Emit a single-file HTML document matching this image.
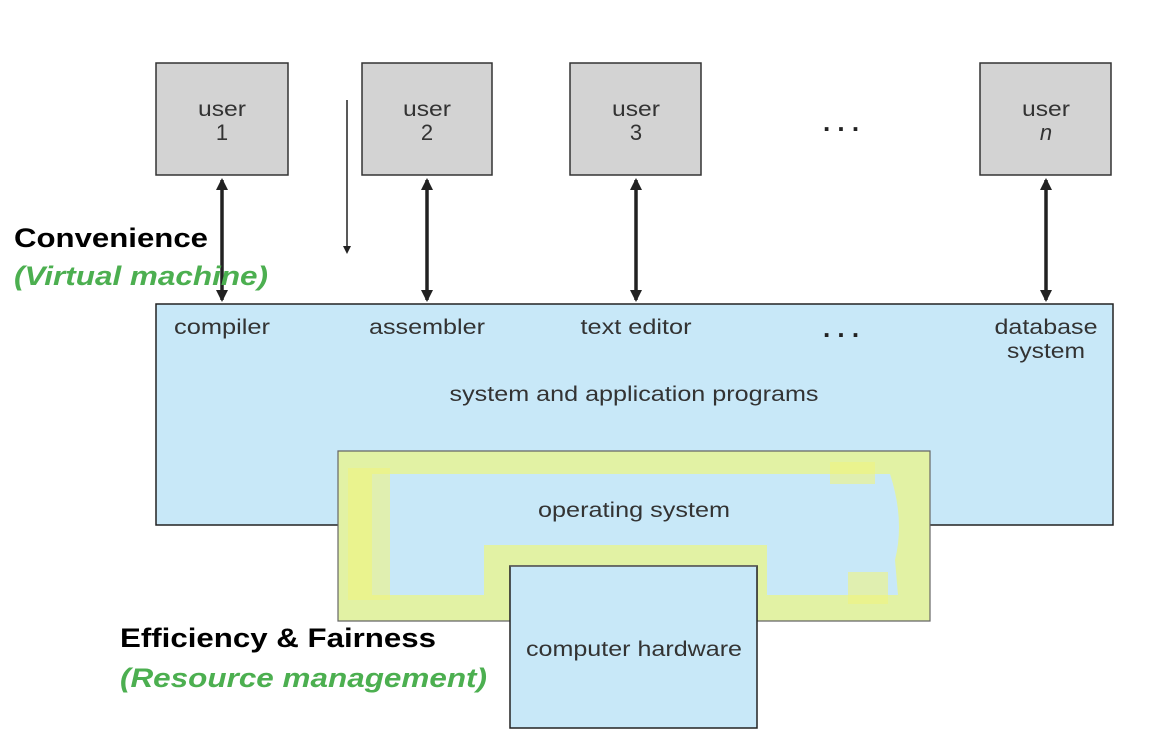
<!DOCTYPE html>
<html><head><style>
body{margin:0;background:#fff}
svg{display:block}
text{font-family:"Liberation Sans",sans-serif}
</style></head><body>
<svg width="1168" height="740" viewBox="0 0 1168 740" xmlns="http://www.w3.org/2000/svg">
<defs>
<marker id="ah" markerWidth="8" markerHeight="8" refX="6" refY="4" orient="auto" markerUnits="userSpaceOnUse"><path d="M0,0 L8,4 L0,8 z" fill="#222"/></marker>
<marker id="ab" markerWidth="12" markerHeight="12" refX="10" refY="6" orient="auto-start-reverse" markerUnits="userSpaceOnUse"><path d="M0,0 L12,6 L0,12 z" fill="#222"/></marker>
</defs>
<g fill="#d3d3d3" stroke="#333" stroke-width="1.5">
<rect x="156" y="63" width="132" height="112"/>
<rect x="362" y="63" width="130" height="112"/>
<rect x="570" y="63" width="131" height="112"/>
<rect x="980" y="63" width="131" height="112"/>
</g>
<g font-size="21" fill="#333" text-anchor="middle">
<text x="222" y="116" textLength="48" lengthAdjust="spacingAndGlyphs">user</text><text x="222" y="140" font-size="22">1</text>
<text x="427" y="116" textLength="48" lengthAdjust="spacingAndGlyphs">user</text><text x="427" y="140" font-size="22">2</text>
<text x="636" y="116" textLength="48" lengthAdjust="spacingAndGlyphs">user</text><text x="636" y="140" font-size="22">3</text>
<text x="1046" y="116" textLength="48" lengthAdjust="spacingAndGlyphs">user</text><text x="1046" y="140" font-size="22" font-style="italic">n</text>
</g>
<text x="841" y="131" font-size="26" fill="#222" text-anchor="middle" font-weight="bold">. . .</text>
<rect x="156" y="304" width="957" height="221" fill="#c8e8f8" stroke="#222" stroke-width="1.5"/>
<g stroke="#222" stroke-width="3.5">
<line x1="222" y1="180" x2="222" y2="300" marker-start="url(#ab)" marker-end="url(#ab)"/>
<line x1="427" y1="180" x2="427" y2="300" marker-start="url(#ab)" marker-end="url(#ab)"/>
<line x1="636" y1="180" x2="636" y2="300" marker-start="url(#ab)" marker-end="url(#ab)"/>
<line x1="1046" y1="180" x2="1046" y2="300" marker-start="url(#ab)" marker-end="url(#ab)"/>
</g>
<line x1="347" y1="100" x2="347" y2="252" stroke="#222" stroke-width="1.5" marker-end="url(#ah)"/>
<g font-size="21" fill="#333" text-anchor="middle">
<text x="222" y="334" textLength="96" lengthAdjust="spacingAndGlyphs">compiler</text>
<text x="427" y="334" textLength="116" lengthAdjust="spacingAndGlyphs">assembler</text>
<text x="636" y="334" textLength="111" lengthAdjust="spacingAndGlyphs">text editor</text>
<text x="1046" y="334" textLength="103" lengthAdjust="spacingAndGlyphs">database</text><text x="1046" y="358" textLength="78" lengthAdjust="spacingAndGlyphs">system</text>
<text x="634" y="401" textLength="369" lengthAdjust="spacingAndGlyphs">system and application programs</text>
</g>
<text x="841" y="337" font-size="26" fill="#222" text-anchor="middle" font-weight="bold">. . .</text>
<path d="M338,451 H930 V621 H757 V566 H510 V621 H338 Z" fill="#e2f2a4" stroke="#666" stroke-width="1.2"/>
<path d="M372,474 H890 Q905,520 895,560 L898,595 H767 V545 H484 V595 H372 Z" fill="#c8e8f8"/>
<path d="M348,468 h42 v132 h-42z M830,462 h45 v22 h-45z M848,572 h40 v32 h-40z" fill="#f0f480" opacity="0.6"/>
<rect x="510" y="566" width="247" height="162" fill="#c8e8f8" stroke="#222" stroke-width="1.5"/>
<line x1="510" y1="566" x2="757" y2="566" stroke="#666" stroke-width="1.2"/>
<text x="634" y="517" font-size="21" fill="#333" text-anchor="middle" textLength="192" lengthAdjust="spacingAndGlyphs">operating system</text>
<text x="634" y="656" font-size="21" fill="#333" text-anchor="middle" textLength="216" lengthAdjust="spacingAndGlyphs">computer hardware</text>
<text x="14" y="247" font-size="27" font-weight="bold" fill="#000" textLength="194" lengthAdjust="spacingAndGlyphs">Convenience</text>
<text x="14" y="285" font-size="27" font-weight="bold" font-style="italic" fill="#4caf50" textLength="254" lengthAdjust="spacingAndGlyphs">(Virtual machine)</text>
<text x="120" y="647" font-size="27" font-weight="bold" fill="#000" textLength="316" lengthAdjust="spacingAndGlyphs">Efficiency &amp; Fairness</text>
<text x="120" y="687" font-size="27" font-weight="bold" font-style="italic" fill="#4caf50" textLength="367" lengthAdjust="spacingAndGlyphs">(Resource management)</text>
</svg>
</body></html>
